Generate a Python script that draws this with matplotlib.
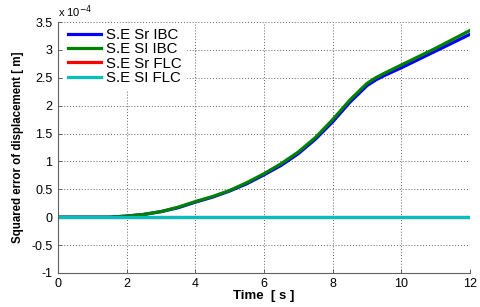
import numpy as np
import matplotlib
matplotlib.use('Agg')
import matplotlib.pyplot as plt

plt.rcParams['font.family'] = ['Liberation Sans', 'DejaVu Sans']
plt.rcParams['axes.unicode_minus'] = False

# values in units of 1e-4 m
t = [0, 1.5, 2, 2.5, 3, 3.5, 4, 4.5, 5, 5.5, 6, 6.5, 7, 7.5, 8, 8.5, 9, 9.25, 9.5, 10, 10.5, 11, 11.5, 12]
se_sr_ibc = [0, 0, 0.02, 0.05, 0.10, 0.17, 0.27, 0.36, 0.47, 0.60, 0.76, 0.93, 1.14, 1.40, 1.71, 2.06, 2.36, 2.46, 2.54, 2.68, 2.83, 2.98, 3.13, 3.28]
se_si_ibc = [0, 0, 0.02, 0.05, 0.10, 0.18, 0.28, 0.37, 0.48, 0.62, 0.78, 0.96, 1.17, 1.43, 1.75, 2.10, 2.40, 2.50, 2.58, 2.73, 2.88, 3.03, 3.19, 3.35]
se_sr_flc = [0] * len(t)
se_si_flc = [0] * len(t)

fig = plt.figure(figsize=(4.8, 3.07), dpi=100)
ax = fig.add_axes([0.121, 0.111, 0.858, 0.817])

ax.plot(t, se_sr_ibc, color='#0000ff', lw=2.3, label='S.E Sr IBC')
ax.plot(t, se_si_ibc, color='#008000', lw=2.3, label='S.E SI IBC')
ax.plot(t, se_sr_flc, color='#ff0000', lw=2.3, label='S.E Sr FLC')
ax.plot(t, se_si_flc, color='#00bfbf', lw=2.3, label='S.E SI FLC')

ax.set_xlim(0, 12)
ax.set_ylim(-1, 3.5)
ax.set_xticks(np.arange(0, 13, 2))
ax.set_yticks(np.arange(-1, 3.6, 0.5))
ax.set_yticklabels(['-1', '-0.5', '0', '0.5', '1', '1.5', '2', '2.5', '3', '3.5'])
ax.grid(True, linestyle=(0, (1, 2)), color='#606060', lw=0.7)
ax.tick_params(direction='in', labelsize=9, length=3, color='#606060', width=0.7, pad=4)
for s in ['top', 'right']:
    ax.spines[s].set_visible(False)
for s in ['left', 'bottom']:
    ax.spines[s].set_color('#606060')
    ax.spines[s].set_linewidth(0.8)

ax.text(0.0, 1.01, 'x 10$^{-4}$', transform=ax.transAxes, fontsize=8, va='bottom', ha='left')

ax.set_xlabel('Time  [ s ]', fontsize=9.5, fontweight='bold', labelpad=0)
ax.set_ylabel('Squared error of displacement [ m]', fontsize=8.3, fontweight='bold', labelpad=5)

leg = ax.legend(loc='upper left', fontsize=10.8, handlelength=2.2, borderaxespad=0.1,
                frameon=True, fancybox=False, labelspacing=0.02, handletextpad=0.3,
                borderpad=0.3, bbox_to_anchor=(0.01, 1.0))
leg.get_frame().set_edgecolor('white')
leg.get_frame().set_alpha(1)

plt.savefig('out.png', dpi=100)
